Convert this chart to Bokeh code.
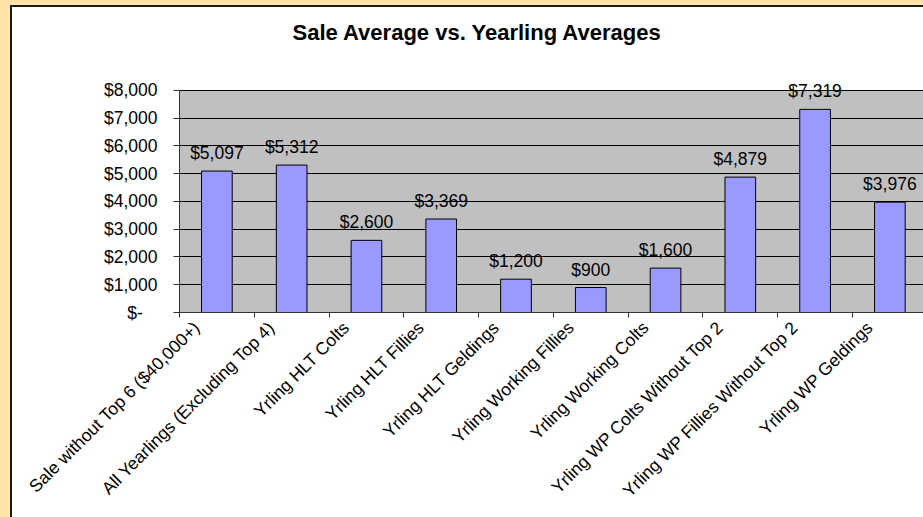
import math
from bokeh.plotting import figure
from bokeh.models import (Range1d, FixedTicker, LabelSet, ColumnDataSource, BoxAnnotation,
                          Title, GlobalInlineStyleSheet)
from bokeh.core.properties import value
from bokeh.embed import file_html
from bokeh.resources import INLINE

categories = [
    "Sale without Top 6 ($40,000+)",
    "All Yearlings (Excluding Top 4)",
    "Yrling HLT Colts",
    "Yrling HLT Fillies",
    "Yrling HLT Geldings",
    "Yrling Working Fillies",
    "Yrling Working Colts",
    "Yrling WP Colts Without Top 2",
    "Yrling WP Fillies Without Top 2",
    "Yrling WP Geldings",
]
values = [5097, 5312, 2600, 3369, 1200, 900, 1600, 4879, 7319, 3976]
value_labels = ["$5,097", "$5,312", "$2,600", "$3,369", "$1,200",
                "$900", "$1,600", "$4,879", "$7,319", "$3,976"]
y_ticks = [0, 1000, 2000, 3000, 4000, 5000, 6000, 7000, 8000]
y_tick_labels = ["$-\u00a0\u00a0\u00a0", "$1,000", "$2,000", "$3,000", "$4,000",
                 "$5,000", "$6,000", "$7,000", "$8,000"]
title_text = "Sale Average vs. Yearling Averages"

FONT = "Liberation Sans"
PEACH = "#FFE3A8"
Y_MAX = 8000
n = len(categories)
xs = [i + 0.5 for i in range(n)]          # bar centres
label_pos = [round(i + 0.23, 2) for i in range(n)]  # where Excel anchors rotated labels
boundaries = list(range(n))

p = figure(width=917, height=515,
           x_range=Range1d(0, 10.03), y_range=Range1d(0, 8432),
           output_backend="svg", toolbar_location=None,
           min_border_left=167, min_border_right=0,
           min_border_top=71, min_border_bottom=210,
           background_fill_color="white", border_fill_color="white",
           outline_line_color=None)

page_css = ("html, body { overflow: hidden; } "
            "body { background: "
            f"linear-gradient({PEACH}, {PEACH}) 0 0 / 100% 5px no-repeat, "
            f"linear-gradient({PEACH}, {PEACH}) 0 0 / 10px 100% no-repeat, white; }}")
p.stylesheets = [GlobalInlineStyleSheet(css=page_css)]
p.styles = {"margin-left": "10px", "margin-top": "5px",
            "border-left": "2px solid #1a1a1a",
            "border-top": "2px solid #1a1a1a"}

# grey plot area up to the top tick
p.add_layout(BoxAnnotation(bottom=0, top=Y_MAX, fill_color="#C0C0C0", fill_alpha=1,
                           line_color=None, level="image"))

# invisible spacer between title and plot area
p.add_layout(Title(text="\u00a0", text_font_size="1px", standoff=26), "above")

p.title.text = title_text
p.title.text_font = FONT
p.title.text_font_size = "22px"
p.title.text_font_style = "bold"
p.title.text_color = "black"
p.title.align = "left"
p.title.offset = 113
p.title.standoff = 10

p.vbar(x=xs, top=values, bottom=0, width=0.41,
       fill_color="#9999FF", line_color="black", line_width=1)

src = ColumnDataSource(dict(x=xs, y=values, t=value_labels))
p.add_layout(LabelSet(x="x", y="y", text="t", source=src,
                      text_align="center", text_baseline="alphabetic",
                      y_offset=12, text_font=value(FONT), text_font_size="17.5px",
                      text_color="black"))

yt = FixedTicker(ticks=y_ticks)
p.yaxis.ticker = yt
p.yaxis.bounds = (0, Y_MAX)
p.yaxis.major_label_overrides = dict(zip(y_ticks, y_tick_labels))
p.yaxis.minor_tick_line_color = None
p.yaxis.major_tick_in = 0
p.yaxis.major_tick_out = 6
p.yaxis.major_label_standoff = 16
p.yaxis.axis_line_color = "#333333"
p.yaxis.major_tick_line_color = "#333333"
p.yaxis.major_label_text_font = FONT
p.yaxis.major_label_text_font_size = "17.5px"
p.yaxis.major_label_text_color = "black"

xt = FixedTicker(ticks=label_pos, minor_ticks=boundaries)
p.xaxis.ticker = xt
p.xaxis.major_label_overrides = dict(zip(label_pos, categories))
p.xaxis.major_tick_line_color = None
p.xaxis.major_tick_in = 0
p.xaxis.major_tick_out = 0
p.xaxis.minor_tick_in = 0
p.xaxis.minor_tick_out = 5
p.xaxis.minor_tick_line_color = "#333333"
p.xaxis.axis_line_color = "#333333"
p.xaxis.major_label_orientation = math.pi / 4
p.xaxis.major_label_standoff = 7
p.xaxis.major_label_text_font = FONT
p.xaxis.major_label_text_font_size = "17.5px"
p.xaxis.major_label_text_color = "black"

p.xgrid.visible = False
p.ygrid.ticker = yt
p.ygrid.grid_line_color = "black"
p.ygrid.grid_line_width = 1

open("out.html", "w").write(file_html(p, INLINE))
